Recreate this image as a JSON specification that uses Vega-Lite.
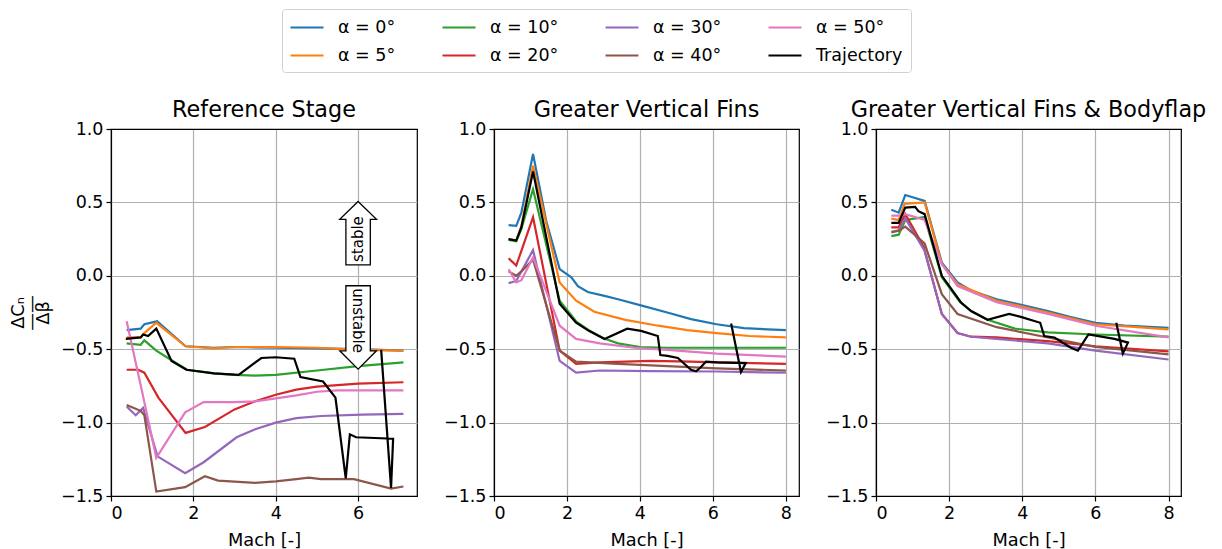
{
  "$schema": "https://vega.github.io/schema/vega-lite/v6.json",
  "padding": {"left": 8, "top": 8, "right": 0, "bottom": 0},
  "background": "white",
  "spacing": 77,
  "bounds": "flush",
  "config": {
    "font": "DejaVu Sans",
    "view": {"stroke": "black", "strokeWidth": 1.2},
    "axis": {
      "labelFont": "DejaVu Sans", "titleFont": "DejaVu Sans",
      "labelFontSize": 17.5, "titleFontSize": 17.8,
      "labelColor": "black", "titleColor": "black", "titleFontWeight": "normal",
      "tickColor": "black", "tickWidth": 1.2, "tickSize": 5, "domain": false,
      "gridWidth": 1.2, "labelPadding": 3
    },
    "axisX": {"titlePadding": 10},
    "title": {"font": "DejaVu Sans", "fontSize": 22.3, "fontWeight": "normal", "color": "black", "offset": -1, "frame": "group"},
    "legend": {
      "orient": "none", "legendX": 171, "legendY": -120,
      "columns": 4, "symbolType": "M-1.111,0L2.556,0", "symbolSize": 324, "symbolStrokeWidth": 2.2,
      "labelFont": "DejaVu Sans", "labelFontSize": 17.5, "labelColor": "black", "labelOffset": 27,
      "rowPadding": 9, "columnPadding": 42, "padding": 8,
      "strokeColor": "#d0d0d0", "cornerRadius": 3, "fillColor": "white"
    }
  },
  "datasets": {
    "ref": [
      {"s":"α = 0°","m":0.38,"v":-0.37},{"s":"α = 0°","m":0.72,"v":-0.36},{"s":"α = 0°","m":0.81,"v":-0.33},{"s":"α = 0°","m":1.12,"v":-0.31},{"s":"α = 0°","m":1.81,"v":-0.48},{"s":"α = 0°","m":2.5,"v":-0.49},{"s":"α = 0°","m":3.0,"v":-0.485},{"s":"α = 0°","m":4.0,"v":-0.49},{"s":"α = 0°","m":5.0,"v":-0.495},{"s":"α = 0°","m":6.0,"v":-0.5},{"s":"α = 0°","m":7.1,"v":-0.51},
      {"s":"α = 5°","m":0.38,"v":-0.42},{"s":"α = 5°","m":0.72,"v":-0.42},{"s":"α = 5°","m":0.81,"v":-0.39},{"s":"α = 5°","m":1.1,"v":-0.32},{"s":"α = 5°","m":1.81,"v":-0.48},{"s":"α = 5°","m":2.5,"v":-0.495},{"s":"α = 5°","m":3.0,"v":-0.485},{"s":"α = 5°","m":4.0,"v":-0.485},{"s":"α = 5°","m":5.0,"v":-0.49},{"s":"α = 5°","m":6.0,"v":-0.505},{"s":"α = 5°","m":7.1,"v":-0.51},
      {"s":"α = 10°","m":0.38,"v":-0.46},{"s":"α = 10°","m":0.72,"v":-0.47},{"s":"α = 10°","m":0.81,"v":-0.44},{"s":"α = 10°","m":1.1,"v":-0.51},{"s":"α = 10°","m":1.5,"v":-0.58},{"s":"α = 10°","m":1.85,"v":-0.64},{"s":"α = 10°","m":2.5,"v":-0.665},{"s":"α = 10°","m":3.0,"v":-0.675},{"s":"α = 10°","m":3.5,"v":-0.68},{"s":"α = 10°","m":4.0,"v":-0.675},{"s":"α = 10°","m":5.0,"v":-0.645},{"s":"α = 10°","m":6.0,"v":-0.615},{"s":"α = 10°","m":7.1,"v":-0.59},
      {"s":"α = 20°","m":0.38,"v":-0.64},{"s":"α = 20°","m":0.66,"v":-0.64},{"s":"α = 20°","m":0.81,"v":-0.66},{"s":"α = 20°","m":1.15,"v":-0.83},{"s":"α = 20°","m":1.81,"v":-1.07},{"s":"α = 20°","m":2.28,"v":-1.03},{"s":"α = 20°","m":3.0,"v":-0.91},{"s":"α = 20°","m":3.5,"v":-0.855},{"s":"α = 20°","m":4.0,"v":-0.81},{"s":"α = 20°","m":4.5,"v":-0.775},{"s":"α = 20°","m":5.0,"v":-0.755},{"s":"α = 20°","m":6.0,"v":-0.735},{"s":"α = 20°","m":7.1,"v":-0.725},
      {"s":"α = 30°","m":0.38,"v":-0.89},{"s":"α = 30°","m":0.6,"v":-0.95},{"s":"α = 30°","m":0.78,"v":-0.9},{"s":"α = 30°","m":1.13,"v":-1.23},{"s":"α = 30°","m":1.8,"v":-1.345},{"s":"α = 30°","m":2.25,"v":-1.27},{"s":"α = 30°","m":3.05,"v":-1.1},{"s":"α = 30°","m":3.5,"v":-1.045},{"s":"α = 30°","m":4.0,"v":-1.0},{"s":"α = 30°","m":4.5,"v":-0.97},{"s":"α = 30°","m":5.1,"v":-0.955},{"s":"α = 30°","m":6.1,"v":-0.945},{"s":"α = 30°","m":7.1,"v":-0.94},
      {"s":"α = 40°","m":0.38,"v":-0.88},{"s":"α = 40°","m":0.72,"v":-0.92},{"s":"α = 40°","m":0.81,"v":-0.95},{"s":"α = 40°","m":1.1,"v":-1.47},{"s":"α = 40°","m":1.8,"v":-1.44},{"s":"α = 40°","m":2.28,"v":-1.365},{"s":"α = 40°","m":2.6,"v":-1.395},{"s":"α = 40°","m":3.5,"v":-1.41},{"s":"α = 40°","m":4.0,"v":-1.4},{"s":"α = 40°","m":4.5,"v":-1.385},{"s":"α = 40°","m":4.8,"v":-1.375},{"s":"α = 40°","m":5.1,"v":-1.385},{"s":"α = 40°","m":5.9,"v":-1.385},{"s":"α = 40°","m":6.8,"v":-1.45},{"s":"α = 40°","m":7.1,"v":-1.435},
      {"s":"α = 50°","m":0.38,"v":-0.31},{"s":"α = 50°","m":0.74,"v":-0.77},{"s":"α = 50°","m":1.1,"v":-1.24},{"s":"α = 50°","m":1.8,"v":-0.93},{"s":"α = 50°","m":2.25,"v":-0.86},{"s":"α = 50°","m":3.0,"v":-0.86},{"s":"α = 50°","m":3.5,"v":-0.855},{"s":"α = 50°","m":4.0,"v":-0.835},{"s":"α = 50°","m":4.5,"v":-0.815},{"s":"α = 50°","m":5.0,"v":-0.79},{"s":"α = 50°","m":5.5,"v":-0.78},{"s":"α = 50°","m":6.0,"v":-0.78},{"s":"α = 50°","m":7.1,"v":-0.78},
      {"s":"Trajectory","m":0.36,"v":-0.43},{"s":"Trajectory","m":0.72,"v":-0.42},{"s":"Trajectory","m":0.78,"v":-0.4},{"s":"Trajectory","m":0.9,"v":-0.41},{"s":"Trajectory","m":1.1,"v":-0.36},{"s":"Trajectory","m":1.47,"v":-0.58},{"s":"Trajectory","m":1.83,"v":-0.64},{"s":"Trajectory","m":2.5,"v":-0.665},{"s":"Trajectory","m":3.1,"v":-0.675},{"s":"Trajectory","m":3.65,"v":-0.56},{"s":"Trajectory","m":4.0,"v":-0.555},{"s":"Trajectory","m":4.45,"v":-0.565},{"s":"Trajectory","m":4.6,"v":-0.69},{"s":"Trajectory","m":5.15,"v":-0.72},{"s":"Trajectory","m":5.45,"v":-0.83},{"s":"Trajectory","m":5.7,"v":-1.38},{"s":"Trajectory","m":5.8,"v":-1.08},{"s":"Trajectory","m":5.95,"v":-1.1},{"s":"Trajectory","m":6.85,"v":-1.11},{"s":"Trajectory","m":6.8,"v":-1.445},{"s":"Trajectory","m":6.56,"v":-0.505}
    ],
    "fins": [
      {"s":"α = 0°","m":0.4,"v":0.345},{"s":"α = 0°","m":0.61,"v":0.34},{"s":"α = 0°","m":0.75,"v":0.43},{"s":"α = 0°","m":1.07,"v":0.83},{"s":"α = 0°","m":1.43,"v":0.375},{"s":"α = 0°","m":1.8,"v":0.046},{"s":"α = 0°","m":2.12,"v":-0.01},{"s":"α = 0°","m":2.3,"v":-0.07},{"s":"α = 0°","m":2.57,"v":-0.11},{"s":"α = 0°","m":3.0,"v":-0.135},{"s":"α = 0°","m":3.4,"v":-0.16},{"s":"α = 0°","m":4.0,"v":-0.2},{"s":"α = 0°","m":4.75,"v":-0.25},{"s":"α = 0°","m":5.4,"v":-0.295},{"s":"α = 0°","m":6.1,"v":-0.33},{"s":"α = 0°","m":6.85,"v":-0.357},{"s":"α = 0°","m":8.0,"v":-0.37},
      {"s":"α = 5°","m":0.4,"v":0.25},{"s":"α = 5°","m":0.61,"v":0.24},{"s":"α = 5°","m":0.75,"v":0.34},{"s":"α = 5°","m":1.07,"v":0.75},{"s":"α = 5°","m":1.8,"v":-0.046},{"s":"α = 5°","m":2.25,"v":-0.17},{"s":"α = 5°","m":2.75,"v":-0.245},{"s":"α = 5°","m":3.6,"v":-0.3},{"s":"α = 5°","m":4.5,"v":-0.34},{"s":"α = 5°","m":5.3,"v":-0.37},{"s":"α = 5°","m":6.1,"v":-0.39},{"s":"α = 5°","m":7.0,"v":-0.41},{"s":"α = 5°","m":8.0,"v":-0.42},
      {"s":"α = 10°","m":0.4,"v":0.245},{"s":"α = 10°","m":0.61,"v":0.235},{"s":"α = 10°","m":0.75,"v":0.32},{"s":"α = 10°","m":1.07,"v":0.59},{"s":"α = 10°","m":1.8,"v":-0.17},{"s":"α = 10°","m":2.25,"v":-0.31},{"s":"α = 10°","m":2.6,"v":-0.37},{"s":"α = 10°","m":3.0,"v":-0.425},{"s":"α = 10°","m":3.4,"v":-0.46},{"s":"α = 10°","m":4.0,"v":-0.485},{"s":"α = 10°","m":4.75,"v":-0.49},{"s":"α = 10°","m":6.1,"v":-0.49},{"s":"α = 10°","m":8.0,"v":-0.49},
      {"s":"α = 20°","m":0.4,"v":0.12},{"s":"α = 20°","m":0.61,"v":0.07},{"s":"α = 20°","m":0.75,"v":0.17},{"s":"α = 20°","m":1.07,"v":0.4},{"s":"α = 20°","m":1.8,"v":-0.51},{"s":"α = 20°","m":2.25,"v":-0.6},{"s":"α = 20°","m":2.9,"v":-0.59},{"s":"α = 20°","m":4.3,"v":-0.58},{"s":"α = 20°","m":5.4,"v":-0.585},{"s":"α = 20°","m":6.1,"v":-0.59},{"s":"α = 20°","m":8.0,"v":-0.6},
      {"s":"α = 30°","m":0.4,"v":-0.05},{"s":"α = 30°","m":0.61,"v":-0.035},{"s":"α = 30°","m":0.75,"v":0.03},{"s":"α = 30°","m":1.07,"v":0.175},{"s":"α = 30°","m":1.8,"v":-0.58},{"s":"α = 30°","m":2.25,"v":-0.66},{"s":"α = 30°","m":2.9,"v":-0.645},{"s":"α = 30°","m":4.3,"v":-0.65},{"s":"α = 30°","m":6.1,"v":-0.652},{"s":"α = 30°","m":8.0,"v":-0.66},
      {"s":"α = 40°","m":0.4,"v":0.03},{"s":"α = 40°","m":0.61,"v":0.0},{"s":"α = 40°","m":0.75,"v":0.03},{"s":"α = 40°","m":1.07,"v":0.11},{"s":"α = 40°","m":1.8,"v":-0.51},{"s":"α = 40°","m":2.25,"v":-0.585},{"s":"α = 40°","m":3.4,"v":-0.6},{"s":"α = 40°","m":4.75,"v":-0.615},{"s":"α = 40°","m":6.1,"v":-0.63},{"s":"α = 40°","m":8.0,"v":-0.645},
      {"s":"α = 50°","m":0.4,"v":0.045},{"s":"α = 50°","m":0.61,"v":-0.045},{"s":"α = 50°","m":0.75,"v":-0.03},{"s":"α = 50°","m":1.07,"v":0.125},{"s":"α = 50°","m":1.8,"v":-0.34},{"s":"α = 50°","m":2.25,"v":-0.43},{"s":"α = 50°","m":2.9,"v":-0.46},{"s":"α = 50°","m":3.85,"v":-0.49},{"s":"α = 50°","m":4.75,"v":-0.505},{"s":"α = 50°","m":6.1,"v":-0.53},{"s":"α = 50°","m":8.0,"v":-0.55},
      {"s":"Trajectory","m":0.4,"v":0.25},{"s":"Trajectory","m":0.61,"v":0.24},{"s":"Trajectory","m":0.75,"v":0.33},{"s":"Trajectory","m":1.07,"v":0.71},{"s":"Trajectory","m":1.8,"v":-0.19},{"s":"Trajectory","m":2.25,"v":-0.32},{"s":"Trajectory","m":2.6,"v":-0.375},{"s":"Trajectory","m":3.03,"v":-0.43},{"s":"Trajectory","m":3.65,"v":-0.36},{"s":"Trajectory","m":4.03,"v":-0.375},{"s":"Trajectory","m":4.49,"v":-0.41},{"s":"Trajectory","m":4.56,"v":-0.54},{"s":"Trajectory","m":4.76,"v":-0.545},{"s":"Trajectory","m":5.04,"v":-0.56},{"s":"Trajectory","m":5.4,"v":-0.64},{"s":"Trajectory","m":5.54,"v":-0.65},{"s":"Trajectory","m":5.66,"v":-0.625},{"s":"Trajectory","m":5.81,"v":-0.585},{"s":"Trajectory","m":6.13,"v":-0.59},{"s":"Trajectory","m":6.9,"v":-0.595},{"s":"Trajectory","m":6.77,"v":-0.655},{"s":"Trajectory","m":6.5,"v":-0.325}
    ],
    "flap": [
      {"s":"α = 0°","m":0.42,"v":0.45},{"s":"α = 0°","m":0.62,"v":0.43},{"s":"α = 0°","m":0.8,"v":0.55},{"s":"α = 0°","m":1.33,"v":0.51},{"s":"α = 0°","m":1.8,"v":0.09},{"s":"α = 0°","m":2.23,"v":-0.045},{"s":"α = 0°","m":2.6,"v":-0.1},{"s":"α = 0°","m":3.3,"v":-0.16},{"s":"α = 0°","m":4.0,"v":-0.2},{"s":"α = 0°","m":4.7,"v":-0.24},{"s":"α = 0°","m":5.3,"v":-0.28},{"s":"α = 0°","m":6.0,"v":-0.32},{"s":"α = 0°","m":6.8,"v":-0.34},{"s":"α = 0°","m":8.0,"v":-0.355},
      {"s":"α = 5°","m":0.42,"v":0.39},{"s":"α = 5°","m":0.62,"v":0.38},{"s":"α = 5°","m":0.78,"v":0.49},{"s":"α = 5°","m":1.33,"v":0.5},{"s":"α = 5°","m":1.8,"v":0.08},{"s":"α = 5°","m":2.23,"v":-0.057},{"s":"α = 5°","m":3.3,"v":-0.17},{"s":"α = 5°","m":4.7,"v":-0.25},{"s":"α = 5°","m":6.0,"v":-0.33},{"s":"α = 5°","m":8.0,"v":-0.365},
      {"s":"α = 10°","m":0.42,"v":0.27},{"s":"α = 10°","m":0.62,"v":0.28},{"s":"α = 10°","m":0.8,"v":0.38},{"s":"α = 10°","m":1.33,"v":0.4},{"s":"α = 10°","m":1.8,"v":-0.01},{"s":"α = 10°","m":2.3,"v":-0.18},{"s":"α = 10°","m":2.6,"v":-0.24},{"s":"α = 10°","m":3.05,"v":-0.3},{"s":"α = 10°","m":3.8,"v":-0.36},{"s":"α = 10°","m":4.7,"v":-0.385},{"s":"α = 10°","m":6.0,"v":-0.4},{"s":"α = 10°","m":8.0,"v":-0.415},
      {"s":"α = 20°","m":0.42,"v":0.33},{"s":"α = 20°","m":0.62,"v":0.33},{"s":"α = 20°","m":0.8,"v":0.42},{"s":"α = 20°","m":1.3,"v":0.2},{"s":"α = 20°","m":1.8,"v":-0.26},{"s":"α = 20°","m":2.23,"v":-0.39},{"s":"α = 20°","m":2.6,"v":-0.415},{"s":"α = 20°","m":3.3,"v":-0.42},{"s":"α = 20°","m":4.7,"v":-0.445},{"s":"α = 20°","m":6.0,"v":-0.48},{"s":"α = 20°","m":8.0,"v":-0.515},
      {"s":"α = 30°","m":0.42,"v":0.3},{"s":"α = 30°","m":0.62,"v":0.31},{"s":"α = 30°","m":0.8,"v":0.39},{"s":"α = 30°","m":1.33,"v":0.17},{"s":"α = 30°","m":1.8,"v":-0.26},{"s":"α = 30°","m":2.23,"v":-0.39},{"s":"α = 30°","m":2.6,"v":-0.415},{"s":"α = 30°","m":3.3,"v":-0.43},{"s":"α = 30°","m":4.7,"v":-0.46},{"s":"α = 30°","m":6.0,"v":-0.51},{"s":"α = 30°","m":8.0,"v":-0.57},
      {"s":"α = 40°","m":0.42,"v":0.295},{"s":"α = 40°","m":0.62,"v":0.307},{"s":"α = 40°","m":0.8,"v":0.335},{"s":"α = 40°","m":1.33,"v":0.22},{"s":"α = 40°","m":1.8,"v":-0.125},{"s":"α = 40°","m":2.23,"v":-0.26},{"s":"α = 40°","m":3.3,"v":-0.35},{"s":"α = 40°","m":4.7,"v":-0.42},{"s":"α = 40°","m":6.0,"v":-0.484},{"s":"α = 40°","m":8.0,"v":-0.535},
      {"s":"α = 50°","m":0.42,"v":0.41},{"s":"α = 50°","m":0.62,"v":0.41},{"s":"α = 50°","m":0.8,"v":0.42},{"s":"α = 50°","m":1.33,"v":0.38},{"s":"α = 50°","m":1.8,"v":0.08},{"s":"α = 50°","m":2.23,"v":-0.07},{"s":"α = 50°","m":3.3,"v":-0.18},{"s":"α = 50°","m":4.7,"v":-0.26},{"s":"α = 50°","m":6.0,"v":-0.34},{"s":"α = 50°","m":8.0,"v":-0.42},
      {"s":"Trajectory","m":0.42,"v":0.36},{"s":"Trajectory","m":0.62,"v":0.36},{"s":"Trajectory","m":0.8,"v":0.465},{"s":"Trajectory","m":1.07,"v":0.47},{"s":"Trajectory","m":1.16,"v":0.44},{"s":"Trajectory","m":1.33,"v":0.42},{"s":"Trajectory","m":1.8,"v":0.0},{"s":"Trajectory","m":2.32,"v":-0.18},{"s":"Trajectory","m":2.6,"v":-0.24},{"s":"Trajectory","m":3.05,"v":-0.3},{"s":"Trajectory","m":3.64,"v":-0.26},{"s":"Trajectory","m":3.96,"v":-0.28},{"s":"Trajectory","m":4.49,"v":-0.32},{"s":"Trajectory","m":4.6,"v":-0.41},{"s":"Trajectory","m":4.88,"v":-0.42},{"s":"Trajectory","m":5.33,"v":-0.49},{"s":"Trajectory","m":5.52,"v":-0.51},{"s":"Trajectory","m":5.81,"v":-0.4},{"s":"Trajectory","m":6.52,"v":-0.43},{"s":"Trajectory","m":6.89,"v":-0.455},{"s":"Trajectory","m":6.75,"v":-0.53},{"s":"Trajectory","m":6.57,"v":-0.32}
    ]
  },
  "hconcat": [
    {
      "width": 306, "height": 367,
      "title": "Reference Stage",
      "encoding": {
        "x": {"field": "m", "type": "quantitative", "scale": {"domain": [0, 7.43], "nice": false},
              "axis": {"title": "Mach [-]", "values": [0, 2, 4, 6], "format": "d",
                       "gridColor": {"condition": {"test": "datum.value === 0", "value": "black"}, "value": "#b0b0b0"}}},
        "y": {"field": "v", "type": "quantitative", "scale": {"domain": [-1.5, 1.0], "nice": false},
              "axis": {"title": ["ΔCₙ", "——", "Δβ"], "titleAngle": 270, "titleLineHeight": 12.5, "titlePadding": 8, "values": [-1.5, -1, -0.5, 0, 0.5, 1], "format": ".1f",
                       "gridColor": {"condition": {"test": "datum.value === 1 || datum.value === -1.5", "value": "black"}, "value": "#b0b0b0"}}}
      },
      "layer": [
        {"data": {"name": "ref"}, "transform": [{"filter": "datum.s !== 'Trajectory'"}],
         "mark": {"type": "line", "strokeWidth": 2.2},
         "encoding": {"color": {"field": "s", "type": "nominal", "legend": {"title": null},
            "scale": {"domain": ["α = 0°","α = 5°","α = 10°","α = 20°","α = 30°","α = 40°","α = 50°","Trajectory"],
                      "range": ["#1f77b4","#ff7f0e","#2ca02c","#d62728","#9467bd","#8c564b","#e377c2","#000000"]}},
            "order": {"value": null}}},
        {"mark": {"type": "rule", "color": "black", "strokeWidth": 2}, "encoding": {"y": {"datum": 0}, "x": null}},
        {"data": {"name": "ref"}, "transform": [{"filter": "datum.s === 'Trajectory'"}],
         "mark": {"type": "line", "strokeWidth": 2.2},
         "encoding": {"color": {"field": "s", "type": "nominal", "legend": {"title": null}}, "order": {"value": null}}},
        {"data": {"values": [{"m": 6, "v": 0.29}]},
         "mark": {"type": "point", "shape": "M0,-1L0.58,-0.44L0.385,-0.44L0.385,1L-0.385,1L-0.385,-0.44L-0.58,-0.44Z", "size": 4020, "filled": true, "fill": "white", "stroke": "black", "strokeWidth": 1.3, "opacity": 1}},
        {"data": {"values": [{"m": 6, "v": -0.352}]},
         "mark": {"type": "point", "shape": "M-0.293,-1L0.293,-1L0.293,0.56L0.44,0.56L0,1L-0.44,0.56L-0.293,0.56Z", "size": 6956, "filled": true, "fill": "white", "stroke": "black", "strokeWidth": 1.3, "opacity": 1}},
        {"data": {"values": [{"m": 6, "v": 0.25, "t": "stable"}]},
         "mark": {"type": "text", "angle": 270, "fontSize": 15, "font": "DejaVu Sans", "color": "black", "align": "center", "baseline": "middle"},
         "encoding": {"text": {"field": "t"}}},
        {"data": {"values": [{"m": 6, "v": -0.305, "t": "unstable"}]},
         "mark": {"type": "text", "angle": 90, "fontSize": 15, "font": "DejaVu Sans", "color": "black", "align": "center", "baseline": "middle"},
         "encoding": {"text": {"field": "t"}}}
      ]
    },
    {
      "width": 305, "height": 367,
      "title": "Greater Vertical Fins",
      "encoding": {
        "x": {"field": "m", "type": "quantitative", "scale": {"domain": [0, 8.36], "nice": false},
              "axis": {"title": "Mach [-]", "values": [0, 2, 4, 6, 8], "format": "d",
                       "gridColor": {"condition": {"test": "datum.value === 0", "value": "black"}, "value": "#b0b0b0"}}},
        "y": {"field": "v", "type": "quantitative", "scale": {"domain": [-1.5, 1.0], "nice": false},
              "axis": {"title": null, "values": [-1.5, -1, -0.5, 0, 0.5, 1], "format": ".1f",
                       "gridColor": {"condition": {"test": "datum.value === 1 || datum.value === -1.5", "value": "black"}, "value": "#b0b0b0"}}}
      },
      "layer": [
        {"data": {"name": "fins"}, "transform": [{"filter": "datum.s !== 'Trajectory'"}],
         "mark": {"type": "line", "strokeWidth": 2.2},
         "encoding": {"color": {"field": "s", "type": "nominal", "legend": {"title": null}}, "order": {"value": null}}},
        {"mark": {"type": "rule", "color": "black", "strokeWidth": 2}, "encoding": {"y": {"datum": 0}, "x": null}},
        {"data": {"name": "fins"}, "transform": [{"filter": "datum.s === 'Trajectory'"}],
         "mark": {"type": "line", "strokeWidth": 2.2},
         "encoding": {"color": {"field": "s", "type": "nominal", "legend": {"title": null}}, "order": {"value": null}}}
      ]
    },
    {
      "width": 305, "height": 367,
      "title": "Greater Vertical Fins & Bodyflap",
      "encoding": {
        "x": {"field": "m", "type": "quantitative", "scale": {"domain": [0, 8.34], "nice": false},
              "axis": {"title": "Mach [-]", "values": [0, 2, 4, 6, 8], "format": "d",
                       "gridColor": {"condition": {"test": "datum.value === 0", "value": "black"}, "value": "#b0b0b0"}}},
        "y": {"field": "v", "type": "quantitative", "scale": {"domain": [-1.5, 1.0], "nice": false},
              "axis": {"title": null, "values": [-1.5, -1, -0.5, 0, 0.5, 1], "format": ".1f",
                       "gridColor": {"condition": {"test": "datum.value === 1 || datum.value === -1.5", "value": "black"}, "value": "#b0b0b0"}}}
      },
      "layer": [
        {"data": {"name": "flap"}, "transform": [{"filter": "datum.s !== 'Trajectory'"}],
         "mark": {"type": "line", "strokeWidth": 2.2},
         "encoding": {"color": {"field": "s", "type": "nominal", "legend": {"title": null}}, "order": {"value": null}}},
        {"mark": {"type": "rule", "color": "black", "strokeWidth": 2}, "encoding": {"y": {"datum": 0}, "x": null}},
        {"data": {"name": "flap"}, "transform": [{"filter": "datum.s === 'Trajectory'"}],
         "mark": {"type": "line", "strokeWidth": 2.2},
         "encoding": {"color": {"field": "s", "type": "nominal", "legend": {"title": null}}, "order": {"value": null}}}
      ]
    }
  ]
}
